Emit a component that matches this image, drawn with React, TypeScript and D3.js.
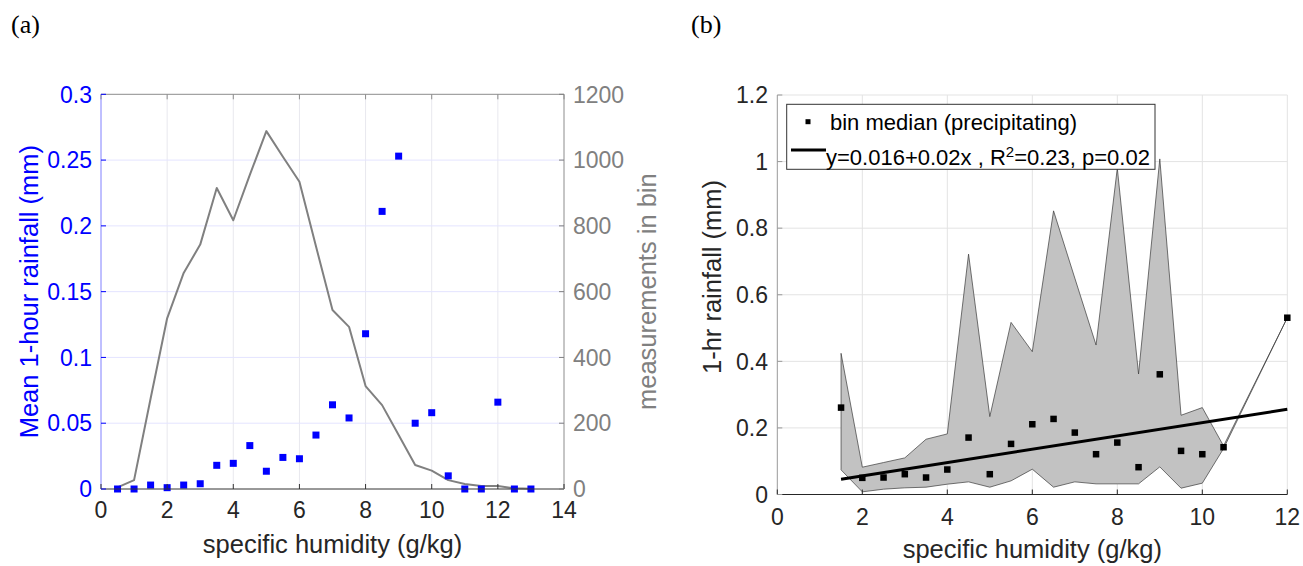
import React from "react";
import * as d3 from "d3";

// ---------- Panel (a) data ----------
const binsA = [0.5, 1, 1.5, 2, 2.5, 3, 3.5, 4, 4.5, 5, 5.5, 6, 6.5, 7, 7.5, 8, 8.5, 9, 9.5, 10, 10.5, 11, 11.5, 12, 12.5, 13];
const countA = [5, 27, 275, 519, 657, 743, 915, 817, 955, 1088, 1010, 934, 738, 544, 493, 313, 255, 164, 73, 56, 27, 15, 9, 9, 2, 1];
const meanRainA = [0, 0, 0.003, 0.001, 0.003, 0.004, 0.018, 0.0195, 0.033, 0.0135, 0.024, 0.023, 0.041, 0.064, 0.054, 0.118, 0.211, 0.253, 0.05, 0.058, 0.01, 0, 0, 0.066, 0, 0];
const xTicksA = [0, 2, 4, 6, 8, 10, 12, 14];
const yTicksA = [0, 0.05, 0.1, 0.15, 0.2, 0.25, 0.3];
const yTickLabelsA = ["0", "0.05", "0.1", "0.15", "0.2", "0.25", "0.3"];
const y2TicksA = [0, 200, 400, 600, 800, 1000, 1200];

// ---------- Panel (b) data ----------
const binsB = [1.5, 2, 2.5, 3, 3.5, 4, 4.5, 5, 5.5, 6, 6.5, 7, 7.5, 8, 8.5, 9, 9.5, 10, 10.5, 12];
const medianB = [0.261, 0.05, 0.051, 0.061, 0.051, 0.075, 0.171, 0.061, 0.152, 0.211, 0.227, 0.186, 0.121, 0.156, 0.082, 0.361, 0.131, 0.121, 0.142, 0.531];
const upperB = [0.424, 0.082, 0.096, 0.11, 0.166, 0.182, 0.722, 0.234, 0.517, 0.429, 0.852, 0.65, 0.449, 0.98, 0.362, 1.008, 0.238, 0.261, 0.146, 0.531];
const lowerB = [0.074, 0.008, 0.016, 0.02, 0.022, 0.031, 0.038, 0.022, 0.041, 0.076, 0.022, 0.038, 0.032, 0.032, 0.032, 0.083, 0.019, 0.034, 0.138, 0.531];
const fitIntercept = 0.016;
const fitSlope = 0.02;
const fitRange = [1.5, 12];
const xTicksB = [0, 2, 4, 6, 8, 10, 12];
const yTicksB = [0, 0.2, 0.4, 0.6, 0.8, 1, 1.2];
const yTickLabelsB = ["0", "0.2", "0.4", "0.6", "0.8", "1", "1.2"];

const FONT = "'Liberation Sans', Arial, Helvetica, sans-serif";
const FS = 23; // tick labels
const FL = 25.5; // axis labels
const FLEG = 22; // legend

export default function App() {
  // scales panel a
  const xA = d3.scaleLinear().domain([0, 14]).range([101, 564]);
  const yA = d3.scaleLinear().domain([0, 0.3]).range([489, 94.3]);
  const yA2 = d3.scaleLinear().domain([0, 1200]).range([489, 94.3]);
  // scales panel b
  const xB = d3.scaleLinear().domain([0, 12]).range([777.3, 1287.3]);
  const yB = d3.scaleLinear().domain([0, 1.2]).range([494.5, 95]);

  const countLine = d3
    .line<number>()
    .x((_, i) => xA(binsA[i]))
    .y((d) => yA2(d))(countA) as string;

  const area = d3
    .area<number>()
    .x((_, i) => xB(binsB[i]))
    .y0((_, i) => yB(lowerB[i]))
    .y1((d) => yB(d))(upperB) as string;

  const [ax0, ax1] = xA.range();
  const [ay0, ay1] = yA.range();
  const [bx0, bx1] = xB.range();
  const [by0, by1] = yB.range();

  const sq = 7;
  const sqB = 6.5;

  return (
    <svg
      width={1303}
      height={566}
      style={{ position: "absolute", left: 0, top: 0, background: "#fff" }}
      fontFamily={FONT}
    >
      <rect x={0} y={0} width={1303} height={566} fill="#fff" />
      {/* panel labels */}
      <text x={11} y={33} fontFamily="'Liberation Serif', 'Times New Roman', serif" fontSize={26}>(a)</text>
      <text x={691} y={33} fontFamily="'Liberation Serif', 'Times New Roman', serif" fontSize={26}>(b)</text>

      {/* ================= Panel A ================= */}
      {xTicksA.slice(1, -1).map((t) => (
        <line key={"gxa" + t} x1={xA(t)} x2={xA(t)} y1={ay0} y2={ay1} stroke="#e8e8ee" strokeWidth={1} />
      ))}
      {yTicksA.slice(1, -1).map((t) => (
        <line key={"gya" + t} x1={ax0} x2={ax1} y1={yA(t)} y2={yA(t)} stroke="#e4e4ff" strokeWidth={1} />
      ))}
      <path d={countLine} fill="none" stroke="#808080" strokeWidth={2} strokeLinejoin="round" />
      {meanRainA.map((v, i) => (
        <rect key={"ba" + i} x={xA(binsA[i]) - sq / 2} y={yA(v) - sq / 2} width={sq} height={sq} fill="#0000ff" />
      ))}
      <line x1={ax0} x2={ax1} y1={ay1} y2={ay1} stroke="#8c8c8c" strokeWidth={1} />
      <line x1={ax0} x2={ax1} y1={ay0} y2={ay0} stroke="#333" strokeWidth={1} />
      <line x1={ax0} x2={ax0} y1={ay0} y2={ay1} stroke="#8080ff" strokeWidth={1} />
      <line x1={ax1} x2={ax1} y1={ay0} y2={ay1} stroke="#8c8c8c" strokeWidth={1} />
      {xTicksA.map((t) => (
        <g key={"xta" + t}>
          <line x1={xA(t)} x2={xA(t)} y1={ay0} y2={ay0 - 5} stroke="#333" strokeWidth={1} />
          <line x1={xA(t)} x2={xA(t)} y1={ay1} y2={ay1 + 5} stroke="#8c8c8c" strokeWidth={1} />
          <text x={xA(t)} y={518} textAnchor="middle" fontSize={FS} fill="#262626">{t}</text>
        </g>
      ))}
      {yTicksA.map((t, i) => (
        <g key={"yta" + t}>
          <line x1={ax0} x2={ax0 + 5} y1={yA(t)} y2={yA(t)} stroke="#0000ff" strokeWidth={1} />
          <text x={92} y={yA(t)} dy="0.36em" textAnchor="end" fontSize={FS} fill="#0000ff">{yTickLabelsA[i]}</text>
        </g>
      ))}
      {y2TicksA.map((t) => (
        <g key={"y2ta" + t}>
          <line x1={ax1} x2={ax1 - 5} y1={yA2(t)} y2={yA2(t)} stroke="#808080" strokeWidth={1} />
          <text x={573} y={yA2(t)} dy="0.36em" textAnchor="start" fontSize={FS} fill="#808080">{t}</text>
        </g>
      ))}
      <text x={(ax0 + ax1) / 2} y={553} textAnchor="middle" fontSize={FL} fill="#262626">specific humidity (g/kg)</text>
      <text transform={`translate(38,${(ay0 + ay1) / 2}) rotate(-90)`} textAnchor="middle" fontSize={FL} fill="#0000ff">Mean 1-hour rainfall (mm)</text>
      <text transform={`translate(656,${(ay0 + ay1) / 2}) rotate(-90)`} textAnchor="middle" fontSize={FL} fill="#808080">measurements in bin</text>

      {/* ================= Panel B ================= */}
      {xTicksB.slice(1).map((t) => (
        <line key={"gxb" + t} x1={xB(t)} x2={xB(t)} y1={by0} y2={by1} stroke="#e3e3e3" strokeWidth={1} />
      ))}
      {yTicksB.slice(1).map((t) => (
        <line key={"gyb" + t} x1={bx0} x2={bx1} y1={yB(t)} y2={yB(t)} stroke="#e3e3e3" strokeWidth={1} />
      ))}
      <path d={area} fill="#c2c2c2" stroke="#3a3a3a" strokeWidth={0.7} strokeLinejoin="miter" />
      <line
        x1={xB(fitRange[0])}
        x2={xB(fitRange[1])}
        y1={yB(fitIntercept + fitSlope * fitRange[0])}
        y2={yB(fitIntercept + fitSlope * fitRange[1])}
        stroke="#000"
        strokeWidth={3}
      />
      {medianB.map((v, i) => (
        <rect key={"mb" + i} x={xB(binsB[i]) - sqB / 2} y={yB(v) - sqB / 2} width={sqB} height={sqB} fill="#000" />
      ))}
      <line x1={bx0} x2={bx1} y1={by0} y2={by0} stroke="#262626" strokeWidth={1} />
      <line x1={bx0} x2={bx0} y1={by0} y2={by1} stroke="#999" strokeWidth={1} />
      {xTicksB.map((t) => (
        <g key={"xtb" + t}>
          <line x1={xB(t)} x2={xB(t)} y1={by0} y2={by0 - 5} stroke="#262626" strokeWidth={1} />
          <text x={xB(t)} y={525} textAnchor="middle" fontSize={FS} fill="#262626">{t}</text>
        </g>
      ))}
      {yTicksB.map((t, i) => (
        <g key={"ytb" + t}>
          <line x1={bx0} x2={bx0 + 5} y1={yB(t)} y2={yB(t)} stroke="#999" strokeWidth={1} />
          <text x={768} y={yB(t)} dy="0.36em" textAnchor="end" fontSize={FS} fill="#262626">{yTickLabelsB[i]}</text>
        </g>
      ))}
      <text x={(bx0 + bx1) / 2} y={558} textAnchor="middle" fontSize={FL} fill="#262626">specific humidity (g/kg)</text>
      <text transform={`translate(721,277) rotate(-90)`} textAnchor="middle" fontSize={FL} fill="#262626">1-hr rainfall (mm)</text>

      {/* legend */}
      <rect x={786.7} y={104.3} width={368.3} height={65} fill="#fff" stroke="#333" strokeWidth={1} />
      <rect x={808 - 2.5} y={121.7 - 2.5} width={5} height={5} fill="#000" />
      <text x={830} y={129.5} fontSize={FLEG} fill="#000">bin median (precipitating)</text>
      <line x1={791} x2={826} y1={150} y2={150} stroke="#000" strokeWidth={3} />
      <text x={826} y={164.5} fontSize={FLEG} fill="#000">
        y=0.016+0.02x , R<tspan dy={-8} fontSize={15}>2</tspan><tspan dy={8}>=0.23, p=0.02</tspan>
      </text>
    </svg>
  );
}
